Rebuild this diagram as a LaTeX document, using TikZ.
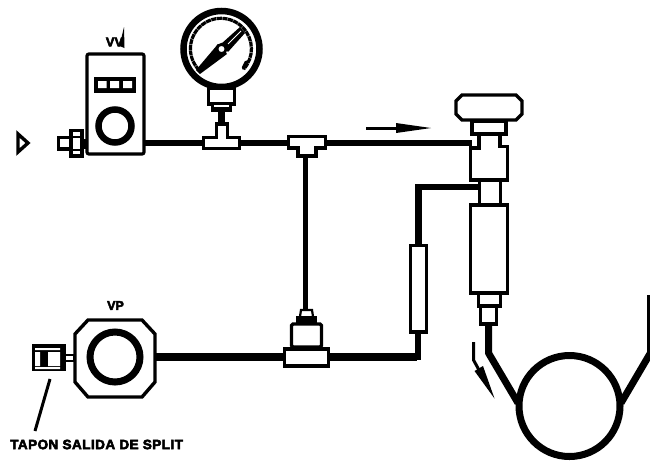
\documentclass[tikz,border=0pt]{standalone}
\usepackage{fontspec}
\setmainfont{Liberation Sans}
\newfontfamily\heavyfont[FakeBold=4]{Liberation Sans Bold}
\newfontfamily\spacedfont[FakeBold=4,LetterSpace=3.5]{Liberation Sans Bold}
\tikzset{
  pipe/.style={line width=6.5pt,line cap=butt},
  part/.style={draw=black,fill=white,line width=3.2pt},
  lbl/.style={inner sep=0pt},
}
\begin{document}
\begin{tikzpicture}[x=1pt,y=-1pt]
\useasboundingbox (0,0) rectangle (650,461);
\begin{scope}
\clip (0,0) rectangle (650,461);
% inlet triangle
\draw[line width=3.4pt,miter limit=10] (18,134) -- (28,143) -- (18,152) -- cycle;
% main pipes
\draw[pipe] (144,143) -- (472,143);
\draw[pipe] (221.7,111) -- (221.7,124);
\draw[line width=5.6pt] (305.5,150) -- (305.5,312);
\draw[line width=7.5pt] (155,357) -- (417,357);
\draw[pipe,line join=round] (418,360) -- (418,330);
\draw[pipe,line join=miter] (418.5,246) -- (418.5,187) -- (478,187);
% regulator
\draw[part] (58.5,137.5) rectangle (72,149);
\draw[part] (71,130.5) rectangle (82,156);
\draw[line width=1.5pt] (71,137) -- (82,137) (71,150) -- (82,150);
\draw[part] (82,141) rectangle (86,147);
\draw[part,rounded corners=2pt] (87,54) rectangle (144,154);
\fill (94,77) rectangle (136,93);
\fill[white] (98,81) rectangle (106.5,88) (110,81) rectangle (119,88) (123,81) rectangle (132,88);
\draw[line width=6.5pt] (115,126) circle[radius=16.5];
% gauge
\draw[line width=6.5pt] (221.5,49) circle[radius=38];
\draw[line width=3.2pt,dash pattern=on 5pt off 0.6pt] (199,70) arc[start angle=136,end angle=402,radius=30.5];
\draw[line width=3.6pt,line cap=round] (243.5,68) -- (246.5,62);
\fill (196,70) -- (200,74) -- (227,54) -- (218,44) -- cycle;
\fill (221,44) -- (228,52) -- (245,33) -- (240,27) -- cycle;
\draw[white,line width=0.8pt] (228,44) -- (241,31);
\draw[draw=black,fill=white,line width=2.8pt] (221.5,49) circle[radius=4.6];
\draw[part] (208.5,88) rectangle (234.5,104);
\fill (211,104) rectangle (232,112);
\fill[white] (214,105) rectangle (229,107);
\draw[part] (216.5,124) rectangle (227.5,139);
\draw[part] (203.5,137.5) rectangle (239.5,148.5);
\fill[white] (218,135) rectangle (226,140);
% second tee
\draw[part] (288.5,136.5) -- (325.5,136.5) -- (325.5,148) -- (316,148) -- (316,156) -- (298,156) -- (298,148) -- (288.5,148) -- cycle;
% lower unit
\draw[part,line width=3.4pt] (75,334) -- (88,320) -- (142,320) -- (155,334) -- (155,382) -- (142,397) -- (88,397) -- (75,382) -- cycle;
\draw[line width=7pt] (115,357) circle[radius=25];
\fill (32,344) rectangle (66,371);
\fill[white] (35,348) rectangle (60,350) (35,367) rectangle (60,369);
\fill[white] (35,352) rectangle (40,366) (48,352) rectangle (60,366);
\draw[line width=2pt] (65,355) rectangle (74,360.5);
\draw[line width=3pt] (50,379) -- (35,431);
% pressure valve
\draw[part,rounded corners=1.5pt] (291.5,324) rectangle (321.5,347);
\draw[part] (284.5,349) rectangle (328.5,366);
\draw[line width=2.2pt,fill=white] (299,323) -- (301,310) -- (312,310) -- (314,323) -- cycle;
\fill (296,316) rectangle (317,325);
\fill[white] (304,312) rectangle (309,315);
% flow tube
\draw[part] (410.5,245.5) rectangle (426.5,332);
% column
\draw[part] (462,95) -- (516,95) -- (522,101) -- (522,114) -- (516,120) -- (462,120) -- (456,114) -- (456,101) -- cycle;
\draw[part] (472,121) rectangle (506,134);
\draw[part] (479,134) -- (479,148) -- (470.5,148) -- (470.5,180) -- (507.5,180) -- (507.5,146.5) -- (500,146.5) -- (500,134) -- cycle;
\draw[part] (479.5,180) rectangle (500.5,205);
\draw[part] (470.5,205) rectangle (507.5,293);
\draw[part] (478.5,293) rectangle (500.5,306);
\draw[part] (480.5,306) rectangle (496.5,324);
% column outlet and coil
\draw[line width=7pt,line join=round] (488.5,324) -- (488.5,353) -- (518,403);
\draw[line width=7pt] (569.5,406) circle[radius=50.5];
\draw[line width=7pt] (621,403) -- (651,352);
\draw[line width=5pt] (649.5,354) -- (649.5,295);
% arrows
\draw[line width=3pt] (366,128) -- (402,128);
\fill (396,123) -- (431,128) -- (396,133) -- cycle;
\draw[line width=3pt] (473.5,342) -- (473.5,360) -- (479,370);
\fill (474.5,371) -- (483,366) -- (494.5,398.5) -- cycle;
\end{scope}
% labels
\node[lbl,font=\heavyfont\fontsize{13}{13}\selectfont] (vv) at (114.5,42) {VV};
\fill (119.5,46) -- (124,27) -- (124.5,48) -- cycle;
\node[lbl,font=\heavyfont\fontsize{12.5}{12.5}\selectfont] (vp) at (115.5,305.5) {VP};
\node[lbl,font=\spacedfont\fontsize{13.5}{13.5}\selectfont,anchor=west] (tap) at (10,444.5) {TAPON SALIDA DE SPLIT};
\end{tikzpicture}
\end{document}
